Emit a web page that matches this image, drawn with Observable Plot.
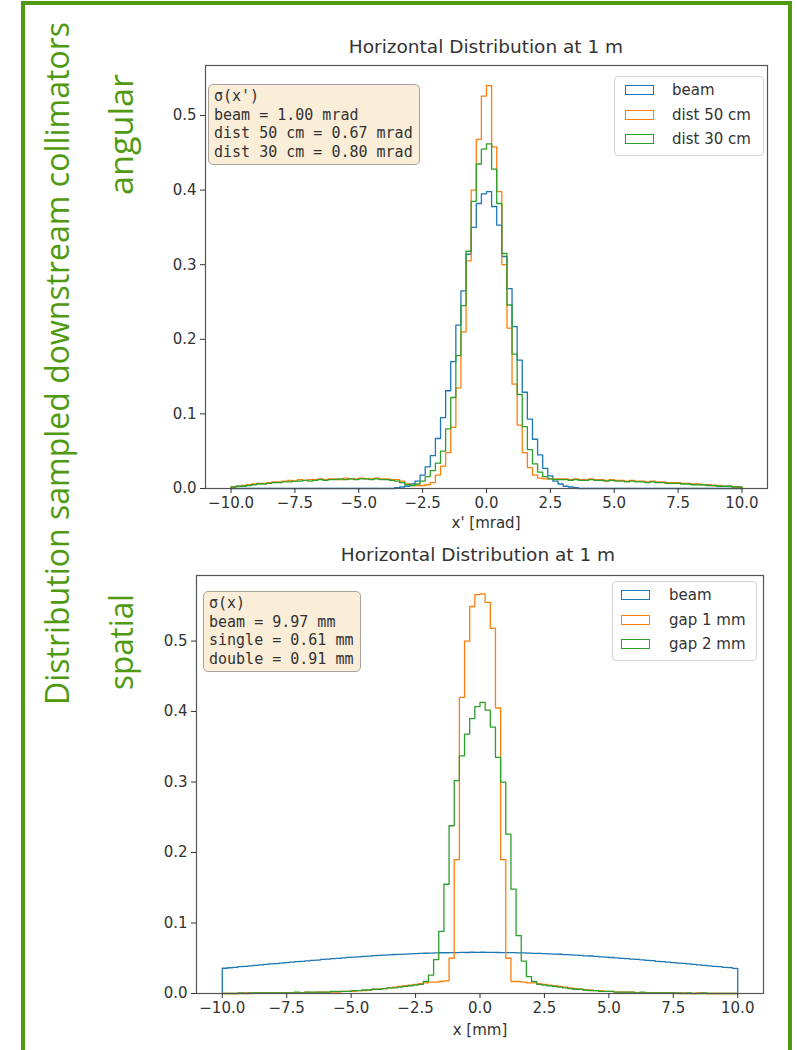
<!DOCTYPE html>
<html>
<head>
<meta charset="utf-8">
<script src="https://cdn.jsdelivr.net/npm/d3@7"></script>
<script src="https://cdn.jsdelivr.net/npm/@observablehq/plot@0.6"></script>
<style>
  body { margin: 0; background: #fff; }
  #page { position: relative; width: 797px; height: 1050px; overflow: hidden; background: #fff; font-family: "DejaVu Sans", sans-serif; color: #333; }
  #frame { position: absolute; left: 21px; top: 1px; width: 771px; height: 1100px; border: 4px solid #4f9a10; border-bottom: none; box-sizing: border-box; }
  .abs { position: absolute; }
  .title { font-size: 18.5px; line-height: 22px; text-align: center; width: 420px; white-space: nowrap; }
  .xlab { font-size: 15px; line-height: 18px; text-align: center; width: 200px; white-space: nowrap; }
  .sbox { font-family: "DejaVu Sans Mono", monospace; font-size: 15px; line-height: 18.5px; background: #faeed9; border: 1.3px solid #a8a29a; border-radius: 5px; padding: 2px 6px 3px 5px; white-space: pre; color: #333; }
  .legend { background: rgba(255,255,255,0.85); border: 1px solid #d5d5d5; border-radius: 4px; font-size: 15px; }
  .lrow { position: absolute; height: 18px; line-height: 18px; white-space: nowrap; }
  .lpatch { position: absolute; width: 27px; height: 8px; border-width: 1.6px; border-style: solid; top: 4px; }
  .ltext { position: absolute; top: 0; }
</style>
</head>
<body>
<div id="page">
  <div id="frame"></div>
  <svg class="abs" style="left:0;top:0" width="150" height="1050">
    <g fill="#4f9a10" font-family="Open Sans, Noto Sans, sans-serif" font-size="32">
      <text transform="translate(69,705) rotate(-90)" textLength="683" lengthAdjust="spacingAndGlyphs">Distribution sampled downstream collimators</text>
      <text transform="translate(133,195) rotate(-90)" textLength="121" lengthAdjust="spacingAndGlyphs">angular</text>
      <text transform="translate(133,690) rotate(-90)" textLength="96" lengthAdjust="spacingAndGlyphs">spatial</text>
    </g>
  </svg>
  <div id="topPlot" class="abs" style="left:140px;top:55px"></div>
  <div id="botPlot" class="abs" style="left:130px;top:565px"></div>
</div>
<script>
// ---------- data ----------
const binStart = -10, binWidth = 0.2;   // 100 bins from -10 to 10
const xTicks = [-10, -7.5, -5, -2.5, 0, 2.5, 5, 7.5, 10];
const yTicks = [0, 0.1, 0.2, 0.3, 0.4, 0.5];
const colors = ["#1f77b4", "#ff7f0e", "#2ca02c"];

const topTitle = "Horizontal Distribution at 1 m";
const topXLabel = "x' [mrad]";
const topNames = ["beam", "dist 50 cm", "dist 30 cm"];
const topBoxLines = ["\u03c3(x')", "beam = 1.00 mrad", "dist 50 cm = 0.67 mrad", "dist 30 cm = 0.80 mrad"];

const topBeam = [
  0,0,0,0,0,0,0,0,0,0,
  0,0,0,0,0,0,0,0,0,0,
  0,0,0,0,0,0,0,0,0,0,
  0,0,0.001,0.002,0.003,0.006,0.010,0.018,0.029,0.044,
  0.067,0.095,0.131,0.170,0.219,0.265,0.314,0.350,0.382,0.395,
  0.398,0.378,0.353,0.311,0.268,0.217,0.172,0.129,0.093,0.066,
  0.045,0.027,0.017,0.010,0.006,0.003,0.002,0.001,0,0,
  0,0,0,0,0,0,0,0,0,0,
  0,0,0,0,0,0,0,0,0,0,
  0,0,0,0,0,0,0,0,0,0
];
const topDist50 = [
  0.002,0.003,0.004,0.005,0.006,0.007,0.007,0.008,0.009,0.009,
  0.010,0.011,0.010,0.012,0.011,0.012,0.012,0.013,0.012,0.013,
  0.013,0.012,0.014,0.013,0.013,0.014,0.013,0.013,0.014,0.013,
  0.013,0.012,0.012,0.010,0.006,0.004,0.004,0.004,0.005,0.008,
  0.018,0.030,0.048,0.082,0.135,0.210,0.305,0.400,0.468,0.526,
  0.540,0.458,0.398,0.300,0.215,0.140,0.085,0.048,0.028,0.018,
  0.014,0.013,0.013,0.013,0.013,0.013,0.012,0.013,0.012,0.012,
  0.013,0.012,0.012,0.011,0.012,0.011,0.011,0.010,0.011,0.010,
  0.010,0.009,0.010,0.009,0.009,0.008,0.008,0.008,0.007,0.007,
  0.006,0.006,0.005,0.005,0.004,0.004,0.003,0.003,0.002,0.002
];
const topDist30 = [
  0.002,0.003,0.003,0.004,0.005,0.006,0.006,0.007,0.008,0.008,
  0.009,0.009,0.010,0.010,0.011,0.010,0.011,0.012,0.011,0.012,
  0.012,0.013,0.012,0.013,0.012,0.013,0.013,0.012,0.013,0.012,
  0.012,0.011,0.010,0.008,0.005,0.004,0.006,0.010,0.016,0.024,
  0.034,0.050,0.080,0.122,0.178,0.245,0.318,0.385,0.435,0.455,
  0.462,0.428,0.382,0.315,0.246,0.180,0.126,0.083,0.052,0.033,
  0.022,0.016,0.013,0.012,0.012,0.012,0.011,0.012,0.011,0.011,
  0.012,0.011,0.011,0.010,0.011,0.010,0.010,0.009,0.010,0.009,
  0.009,0.008,0.009,0.008,0.008,0.007,0.007,0.007,0.006,0.006,
  0.005,0.005,0.005,0.004,0.004,0.003,0.003,0.003,0.002,0.002
];

const botTitle = "Horizontal Distribution at 1 m";
const botXLabel = "x [mm]";
const botNames = ["beam", "gap 1 mm", "gap 2 mm"];
const botBoxLines = ["\u03c3(x)", "beam = 9.97 mm", "single = 0.61 mm", "double = 0.91 mm"];

const botBeam = [
  0.0358,0.0365,0.0372,0.0380,0.0386,0.0392,0.0400,0.0406,0.0412,0.0420,
  0.0425,0.0432,0.0437,0.0445,0.0452,0.0457,0.0464,0.0470,0.0473,0.0484,
  0.0488,0.0495,0.0498,0.0505,0.0512,0.0516,0.0520,0.0527,0.0530,0.0536,
  0.0540,0.0545,0.0548,0.0553,0.0556,0.0560,0.0562,0.0567,0.0568,0.0571,
  0.0574,0.0575,0.0578,0.0578,0.0581,0.0580,0.0584,0.0582,0.0585,0.0583,
  0.0585,0.0583,0.0584,0.0582,0.0581,0.0580,0.0579,0.0576,0.0576,0.0572,
  0.0570,0.0569,0.0565,0.0563,0.0559,0.0557,0.0552,0.0549,0.0544,0.0541,
  0.0535,0.0532,0.0526,0.0521,0.0517,0.0511,0.0506,0.0499,0.0494,0.0489,
  0.0483,0.0477,0.0469,0.0465,0.0457,0.0452,0.0446,0.0438,0.0431,0.0426,
  0.0419,0.0413,0.0405,0.0399,0.0393,0.0385,0.0380,0.0371,0.0366,0.0357
];
const botGap1 = [
  0,0,0,0,0.001,0,0.001,0.001,0.001,0.001,
  0.001,0.001,0.001,0.001,0.001,0.001,0.002,0.001,0.002,0.002,
  0.002,0.002,0.002,0.003,0.003,0.003,0.004,0.004,0.005,0.006,
  0.006,0.007,0.008,0.009,0.010,0.011,0.012,0.013,0.014,0.015,
  0.016,0.016,0.017,0.018,0.050,0.190,0.420,0.500,0.549,0.566,
  0.567,0.555,0.518,0.405,0.190,0.050,0.017,0.017,0.016,0.015,
  0.015,0.014,0.013,0.012,0.011,0.010,0.009,0.008,0.007,0.006,
  0.005,0.005,0.004,0.004,0.003,0.003,0.002,0.002,0.002,0.002,
  0.001,0.001,0.001,0.001,0.001,0.001,0.001,0.001,0,0.001,
  0,0,0.001,0,0,0,0,0,0,0
];
const botGap2 = [
  0,0,0,0.001,0,0.001,0.001,0.001,0.001,0.001,
  0.001,0.001,0.001,0.001,0.002,0.001,0.002,0.002,0.002,0.002,
  0.002,0.003,0.003,0.003,0.003,0.004,0.004,0.005,0.005,0.006,
  0.006,0.007,0.008,0.008,0.009,0.010,0.011,0.012,0.013,0.017,
  0.026,0.048,0.088,0.155,0.238,0.302,0.337,0.368,0.390,0.407,
  0.413,0.402,0.378,0.335,0.300,0.226,0.148,0.082,0.046,0.024,
  0.017,0.013,0.012,0.011,0.010,0.009,0.008,0.007,0.006,0.006,
  0.005,0.004,0.004,0.003,0.003,0.003,0.002,0.002,0.002,0.002,
  0.001,0.002,0.001,0.001,0.001,0.001,0.001,0.001,0.001,0,
  0.001,0,0,0.001,0,0,0,0,0,0
];

// ---------- helpers ----------
const fmt = d3.format(".1f");

// histogram outline (matplotlib histtype="step"): baseline -> bins -> baseline
function outline(name, values) {
  const pts = [{series: name, x: binStart, y: 0}];
  values.forEach((v, i) => pts.push({series: name, x: binStart + i * binWidth, y: v}));
  const end = binStart + values.length * binWidth;
  pts.push({series: name, x: end, y: values[values.length - 1]});
  pts.push({series: name, x: end, y: 0});
  return pts;
}

function histPlot({names, series, yMax, width, height, mL, mR, mT, mB}) {
  const data = names.flatMap((n, i) => outline(n, series[i]));
  return Plot.plot({
    width, height,
    marginLeft: mL, marginRight: mR, marginTop: mT, marginBottom: mB,
    x: {domain: [-11, 11]},
    y: {domain: [0, yMax]},
    color: {domain: names, range: colors},
    style: {fontFamily: "DejaVu Sans", fontSize: "15px", color: "#333", background: "transparent", overflow: "visible"},
    marks: [
      Plot.line(data, {x: "x", y: "y", z: "series", stroke: "series", curve: "step-after", strokeWidth: 1.3}),
      Plot.frame({stroke: "#555", strokeWidth: 1.2}),
      Plot.axisX({ticks: xTicks, tickSize: 5, tickPadding: 4, tickFormat: fmt, label: null, fontSize: 15}),
      Plot.axisY({ticks: yTicks, tickSize: 5, tickPadding: 4, tickFormat: fmt, label: null, fontSize: 15})
    ]
  });
}

function addText(cls, text, left, top) {
  const d = document.createElement("div");
  d.className = "abs " + cls;
  d.style.left = left + "px";
  d.style.top = top + "px";
  d.textContent = text;
  document.getElementById("page").appendChild(d);
  return d;
}

function addLegend(names, left, top, width, height, rowTop, rowStep, patchX, textX) {
  const lg = document.createElement("div");
  lg.className = "abs legend";
  Object.assign(lg.style, {left: left + "px", top: top + "px", width: width + "px", height: height + "px"});
  names.forEach((n, i) => {
    const r = document.createElement("div");
    r.className = "lrow";
    r.style.top = (rowTop + i * rowStep) + "px";
    r.style.left = "0px";
    const p = document.createElement("div");
    p.className = "lpatch";
    p.style.left = patchX + "px";
    p.style.borderColor = colors[i];
    const t = document.createElement("div");
    t.className = "ltext";
    t.style.left = textX + "px";
    t.textContent = n;
    r.appendChild(p); r.appendChild(t);
    lg.appendChild(r);
  });
  document.getElementById("page").appendChild(lg);
}

// ---------- top chart ----------
document.getElementById("topPlot").appendChild(histPlot({
  names: topNames, series: [topBeam, topDist50, topDist30], yMax: 0.567,
  width: 640, height: 485, mL: 65, mR: 13, mT: 10, mB: 52
}));
addText("title", topTitle, 486 - 210, 36);
addText("xlab", topXLabel, 486 - 100, 514);
addText("sbox", topBoxLines.join("\n"), 208, 84);
addLegend(topNames, 614, 76, 148, 78, 4, 24.5, 10, 57);

// ---------- bottom chart ----------
document.getElementById("botPlot").appendChild(histPlot({
  names: botNames, series: [botBeam, botGap1, botGap2], yMax: 0.593,
  width: 650, height: 485, mL: 66, mR: 17, mT: 10, mB: 57
}));
addText("title", botTitle, 478 - 210, 544);
addText("xlab", botXLabel, 480 - 100, 1021);
addText("sbox", botBoxLines.join("\n"), 203, 591);
addLegend(botNames, 612, 581, 143, 78, 4, 24.5, 8, 56);
</script>
</body>
</html>
